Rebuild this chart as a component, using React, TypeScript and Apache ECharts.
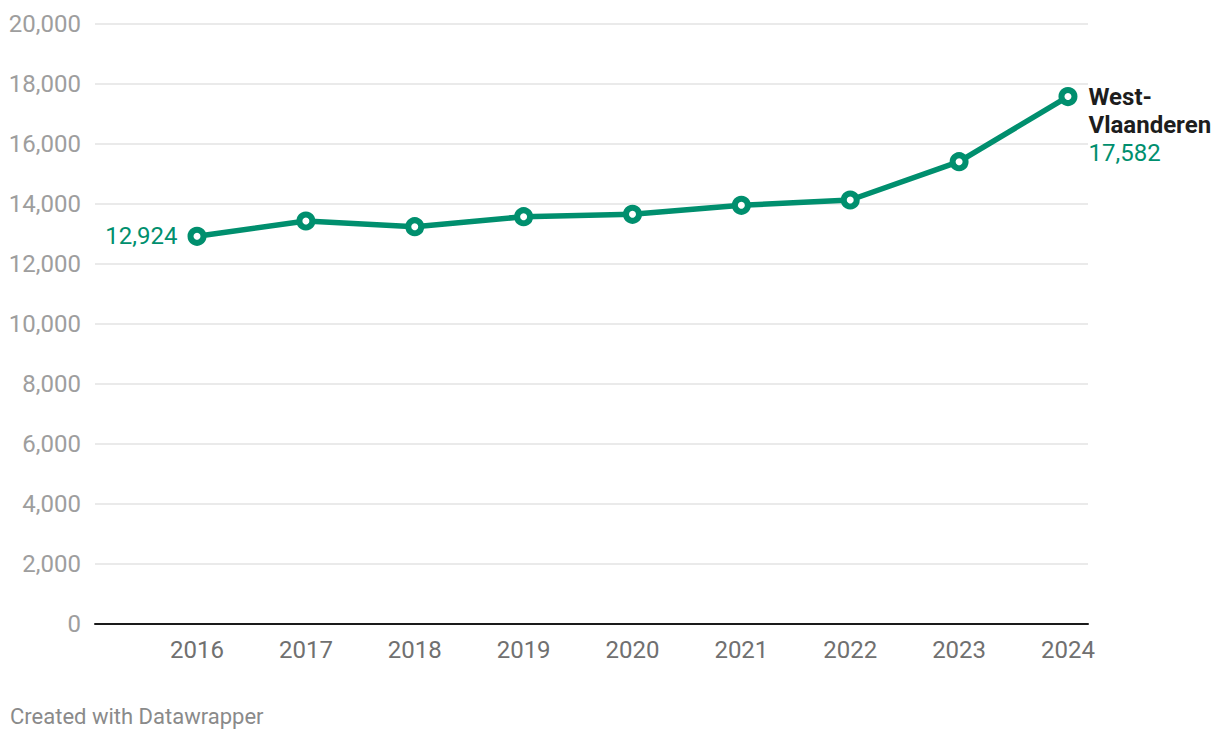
import React, { useEffect, useRef } from "react";
import * as echarts from "echarts";

const years = [2016, 2017, 2018, 2019, 2020, 2021, 2022, 2023, 2024];
const values = [12924, 13433, 13243, 13577, 13657, 13957, 14133, 15410, 17582];
const seriesName = "West-Vlaanderen";
const yTicks = [0, 2000, 4000, 6000, 8000, 10000, 12000, 14000, 16000, 18000, 20000];

const GREEN = "#008f6e";
const fmt = (v: number) => v.toLocaleString("en-US");

export default function App() {
  const ref = useRef<HTMLDivElement>(null);
  useEffect(() => {
    if (!ref.current) return;
    const chart = echarts.init(ref.current, null, { renderer: "svg" });
    const last = values.length - 1;
    const data = values.map((v, i) => {
      const item: any = { value: [years[i], v] };
      if (i === 0) {
        item.label = {
          show: true,
          position: "left",
          distance: 10,
          formatter: fmt(v),
          color: GREEN,
          fontSize: 24,
          fontFamily: "Roboto",
        };
      } else if (i === last) {
        const parts = seriesName.split("-");
        item.label = {
          show: true,
          position: "right",
          distance: 11,
          offset: [0, 28],
          align: "left",
          formatter: `{n|${parts[0]}-}\n{n|${parts[1]}}\n{v|${fmt(v)}}`,
          rich: {
            n: { fontSize: 24, fontWeight: "bold", color: "#1d1d1d", fontFamily: "Roboto", lineHeight: 28 },
            v: { fontSize: 24, color: GREEN, fontFamily: "Roboto", lineHeight: 28 },
          },
        };
      }
      return item;
    });
    chart.setOption({
      animation: false,
      grid: { left: 95, right: 132, top: 24, bottom: 116 },
      xAxis: {
        type: "value",
        min: 2015.063,
        max: 2024.184,
        splitLine: { show: false },
        axisLine: { show: true, onZero: false, lineStyle: { color: "#1a1a1a", width: 2 } },
        axisTick: { show: false },
        axisLabel: {
          customValues: years,
          formatter: (v: number) => String(Math.round(v)),
          color: "#707070",
          fontSize: 24,
          fontFamily: "Roboto",
          margin: 14,
        },
      },
      yAxis: {
        type: "value",
        min: 0,
        max: 20000,
        interval: 2000,
        axisLine: { show: false },
        axisTick: { show: false },
        splitLine: { show: true, lineStyle: { color: "#e3e3e3", width: 1.5 } },
        axisLabel: {
          customValues: yTicks,
          formatter: (v: number) => fmt(v),
          color: "#9e9e9e",
          fontSize: 24,
          fontFamily: "Roboto",
          margin: 14,
        },
      },
      series: [
        {
          type: "line",
          name: seriesName,
          data,
          lineStyle: { color: GREEN, width: 5.5 },
          symbol: "circle",
          symbolSize: 13,
          itemStyle: { color: "#ffffff", borderColor: GREEN, borderWidth: 6 },
          z: 5,
        },
      ],
      graphic: [
        {
          type: "text",
          left: 10,
          top: 705,
          style: {
            text: "Created with Datawrapper",
            fontSize: 22,
            fontFamily: "Roboto",
            fill: "#8a8a8a",
          },
        },
      ],
    });
    return () => chart.dispose();
  }, []);
  return (
    <div
      ref={ref}
      style={{ position: "fixed", left: 0, top: 0, width: 1220, height: 740, background: "#fff" }}
    />
  );
}
